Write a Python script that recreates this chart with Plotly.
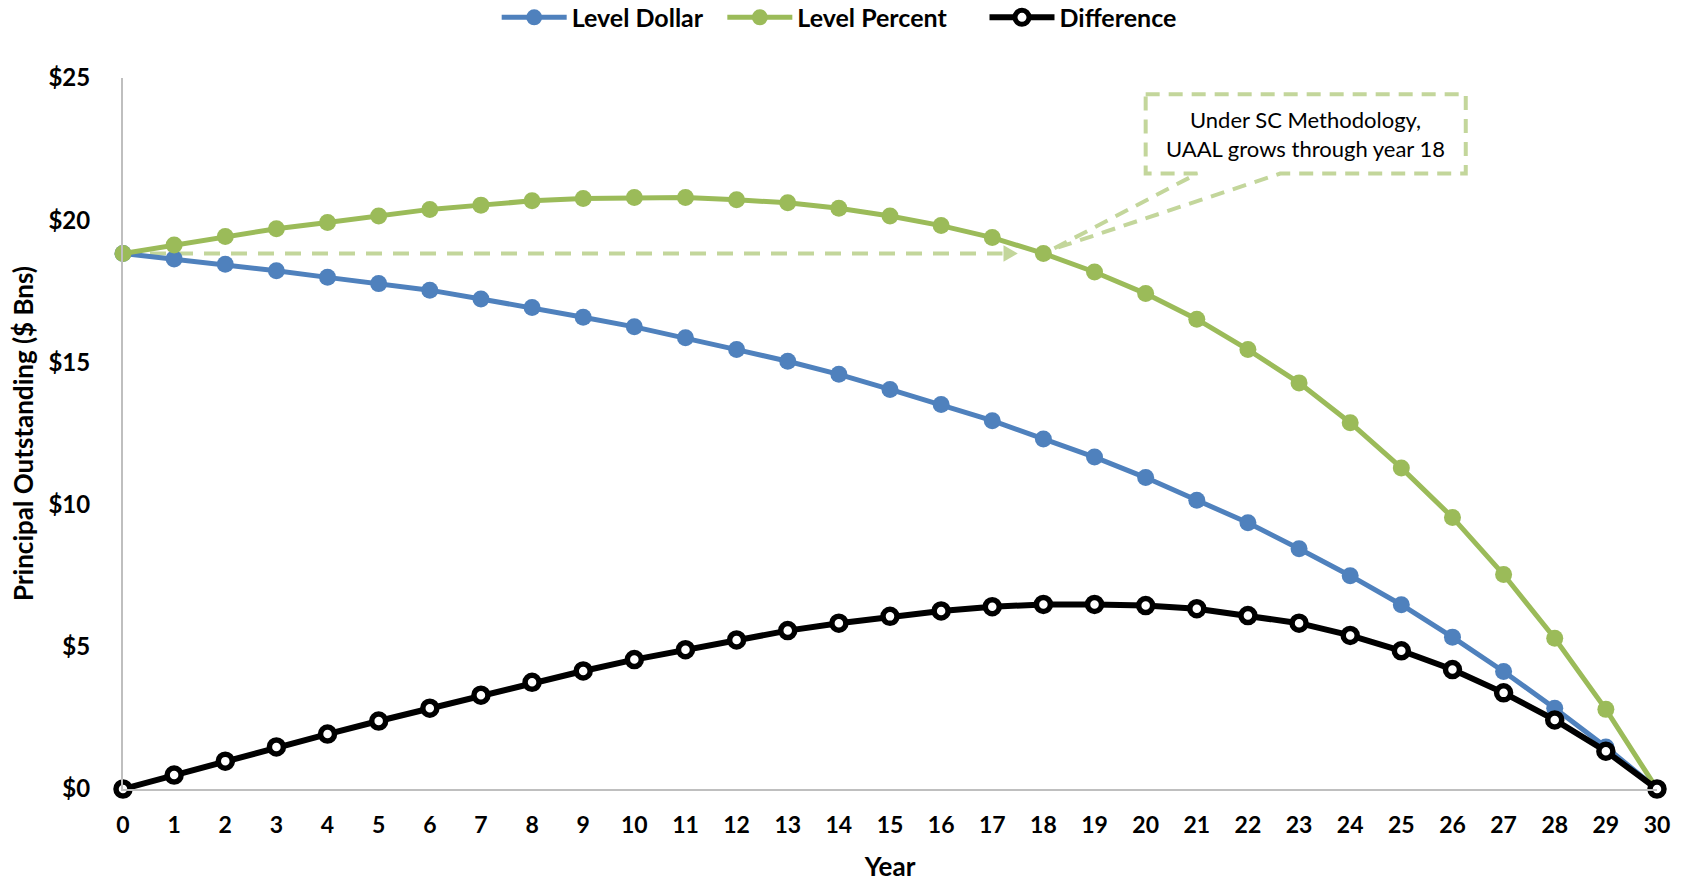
import plotly.graph_objects as go

# Amortization comparison: principal outstanding by year ($ billions)
years = list(range(31))

level_dollar = [18.83, 18.64, 18.45, 18.22, 17.99, 17.77, 17.54, 17.23, 16.93, 16.59,
                16.25, 15.87, 15.45, 15.04, 14.58, 14.05, 13.52, 12.95, 12.31, 11.67,
                10.95, 10.15, 9.36, 8.45, 7.50, 6.48, 5.34, 4.13, 2.84, 1.48, 0.0]

level_percent = [18.83, 19.13, 19.43, 19.70, 19.92, 20.15, 20.38, 20.53, 20.68, 20.76,
                 20.80, 20.80, 20.72, 20.61, 20.42, 20.15, 19.81, 19.39, 18.83, 18.18,
                 17.42, 16.52, 15.45, 14.28, 12.88, 11.29, 9.55, 7.54, 5.30, 2.80, 0.0]

difference = [0.0, 0.49, 0.98, 1.48, 1.93, 2.39, 2.84, 3.30, 3.75, 4.15,
              4.55, 4.90, 5.24, 5.57, 5.83, 6.07, 6.26, 6.41, 6.49, 6.49,
              6.45, 6.34, 6.10, 5.83, 5.40, 4.86, 4.20, 3.38, 2.43, 1.33, 0.0]

y_ticks = [0, 5, 10, 15, 20, 25]

FONT = "Lato"
BLUE = "#4F81BD"
GREEN = "#9BBB59"
LIGHT_GREEN = "#C3D69B"
AXIS_GRAY = "#BFBFBF"

fig = go.Figure()

fig.add_trace(go.Scatter(
    x=years, y=level_dollar, name="Level Dollar", mode="lines+markers",
    line=dict(color=BLUE, width=5),
    marker=dict(color=BLUE, size=17, symbol="circle"),
    cliponaxis=False, legend="legend",
))
fig.add_trace(go.Scatter(
    x=years, y=level_percent, name="Level Percent", mode="lines+markers",
    line=dict(color=GREEN, width=5),
    marker=dict(color=GREEN, size=17, symbol="circle"),
    cliponaxis=False, legend="legend2",
))
fig.add_trace(go.Scatter(
    x=years, y=difference, name="Difference", mode="lines+markers",
    line=dict(color="black", width=6),
    marker=dict(color="white", size=14, symbol="circle",
                line=dict(color="black", width=5.5)),
    cliponaxis=False, legend="legend3",
))

# Horizontal dashed arrow at the starting balance
start_level = level_percent[0]
tip_x = 17.5
fig.add_shape(type="line", xref="x", yref="y",
              x0=0, y0=start_level, x1=tip_x - 0.3, y1=start_level,
              line=dict(color=LIGHT_GREEN, width=4, dash="16px,11px"),
              layer="below")
fig.add_shape(type="path", xref="x", yref="y",
              path=f"M {tip_x - 0.28},{start_level + 0.29} L {tip_x},{start_level} "
                   f"L {tip_x - 0.28},{start_level - 0.29} Z",
              fillcolor=LIGHT_GREEN, line=dict(width=0), layer="below")

# Callout box with a pointer toward year 18
px, py = 18 + 0.17, level_percent[18] + 0.14
bx0, bx1, by0, by1 = 20.0, 26.26, 21.64, 24.43
fig.add_shape(type="path", xref="x", yref="y",
              path=(f"M {bx0},{by1} L {bx1},{by1} L {bx1},{by0} L 22.63,{by0} "
                    f"L {px},{py} L 21.01,{by0} L {bx0},{by0} Z"),
              line=dict(color=LIGHT_GREEN, width=4, dash="14px,9px"),
              fillcolor="rgba(255,255,255,0)")
fig.add_annotation(x=(bx0 + bx1) / 2, y=(by0 + by1) / 2, xref="x", yref="y",
                   text="Under SC Methodology,<br>UAAL grows through year 18",
                   showarrow=False, align="center",
                   font=dict(family=FONT, size=22, color="black"))

legend_font = dict(family=FONT, size=25, color="black", weight="bold")
legend_common = dict(orientation="h", xanchor="left", y=1.085, yanchor="middle",
                     font=legend_font, itemwidth=65, bgcolor="rgba(0,0,0,0)")

fig.update_layout(
    width=1687, height=882,
    margin=dict(l=123, r=30, t=78, b=93, autoexpand=False),
    paper_bgcolor="white", plot_bgcolor="white",
    font=dict(family=FONT, color="black"),
    showlegend=True,
    legend=dict(x=0.2436, **legend_common),
    legend2=dict(x=0.3907, **legend_common),
    legend3=dict(x=0.5616, **legend_common),
    xaxis=dict(range=[0, 30], tickmode="array", tickvals=years,
               ticktext=[str(y) for y in years],
               showgrid=False, zeroline=False, showline=True,
               linecolor=AXIS_GRAY, linewidth=2, ticks="",
               ticklabelstandoff=14,
               tickfont=dict(family=FONT, size=23, color="black", weight="bold"),
               title=dict(text="Year", standoff=22,
                          font=dict(family=FONT, size=26, color="black", weight="bold"))),
    yaxis=dict(range=[0, 25], tickmode="array", tickvals=y_ticks,
               ticktext=[f"${v}" for v in y_ticks],
               showgrid=False, zeroline=False, showline=True,
               linecolor=AXIS_GRAY, linewidth=2, ticks="",
               ticklabelstandoff=26,
               tickfont=dict(family=FONT, size=24, color="black", weight="bold"),
               title=dict(text="Principal Outstanding ($ Bns)", standoff=7,
                          font=dict(family=FONT, size=26, color="black", weight="bold"))),
)

fig.write_html("out.html")
